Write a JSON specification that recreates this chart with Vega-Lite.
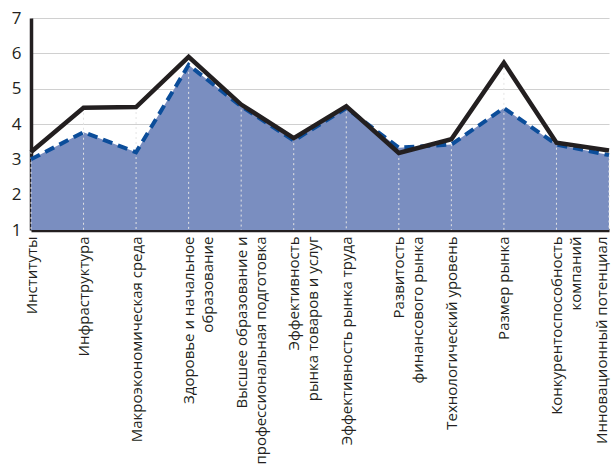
{
  "$schema": "https://vega.github.io/schema/vega-lite/v6.json",
  "width": 578,
  "height": 212,
  "autosize": "none",
  "padding": {"left": 31, "top": 18, "right": 2, "bottom": 243},
  "background": "white",
  "config": {"view": {"stroke": null}, "font": "Open Sans", "axisY": {"tickCount": 7}},
  "data": {
    "values": [
      {"category": "Институты", "black": 3.21, "blue": 3.0},
      {"category": "Инфраструктура", "black": 4.46, "blue": 3.77},
      {"category": "Макроэкономическая среда", "black": 4.48, "blue": 3.2},
      {"category": "Здоровье и начальное|образование", "black": 5.9, "blue": 5.67},
      {"category": "Высшее образование и|профессиональная подготовка", "black": 4.55, "blue": 4.5},
      {"category": "Эффективность|рынка товаров и услуг", "black": 3.6, "blue": 3.53},
      {"category": "Эффективность рынка труда", "black": 4.5, "blue": 4.45},
      {"category": "Развитость|финансового рынка", "black": 3.18, "blue": 3.33},
      {"category": "Технологический уровень", "black": 3.57, "blue": 3.42},
      {"category": "Размер рынка", "black": 5.73, "blue": 4.45},
      {"category": "Конкурентоспособность|компаний", "black": 3.47, "blue": 3.42},
      {"category": "Инновационный потенциал", "black": 3.25, "blue": 3.12}
    ]
  },
  "encoding": {
    "x": {
      "field": "category", "type": "ordinal", "sort": null,
      "scale": {"type": "point", "padding": 0},
      "axis": {
        "title": null, "labelAngle": -90, "labelAlign": "right", "labelBaseline": "middle",
        "labelExpr": "split(datum.label, '|')",
        "labelOffset": {"condition": {"test": "datum.value == 'Инновационный потенциал'", "value": -8}, "value": 0},
        "labelFontSize": 15, "labelColor": "#231f20", "labelLimit": 300, "labelLineHeight": 19,
        "labelPadding": 6, "ticks": false, "grid": false, "labelOverlap": false,
        "domainColor": "#231f20", "domainWidth": 3.5, "labelFont": "Open Sans"
      }
    }
  },
  "layer": [
    {
      "mark": {"type": "area", "color": "#7a8ec0", "opacity": 1},
      "encoding": {
        "y": {"field": "blue", "type": "quantitative",
          "scale": {"domain": [1, 7], "zero": false, "nice": false},
          "axis": {"title": null, "values": [1,2,3,4,5,6,7], "tickCount": 7, "ticks": false, "labelOverlap": false,
            "labelFontSize": 17, "labelColor": "#231f20", "labelPadding": 10,
            "grid": true, "gridColor": "#d0d0d0", "gridWidth": 1.2,
            "domainColor": "#231f20", "domainWidth": 3.5, "labelFont": "Open Sans"}},
        "y2": {"datum": 1}
      }
    },
    {
      "mark": {"type": "rule", "color": "#e4e4e4", "strokeDash": [2, 3], "strokeWidth": 1},
      "encoding": {
        "y": {"field": "black", "type": "quantitative"},
        "y2": {"datum": 1}
      }
    },
    {
      "mark": {"type": "line", "color": "#0b4d9a", "strokeWidth": 4, "strokeDash": [10, 6]},
      "encoding": {"y": {"field": "blue", "type": "quantitative"}}
    },
    {
      "mark": {"type": "line", "color": "#231f20", "strokeWidth": 4.5, "strokeJoin": "miter"},
      "encoding": {"y": {"field": "black", "type": "quantitative"}}
    }
  ]
}
